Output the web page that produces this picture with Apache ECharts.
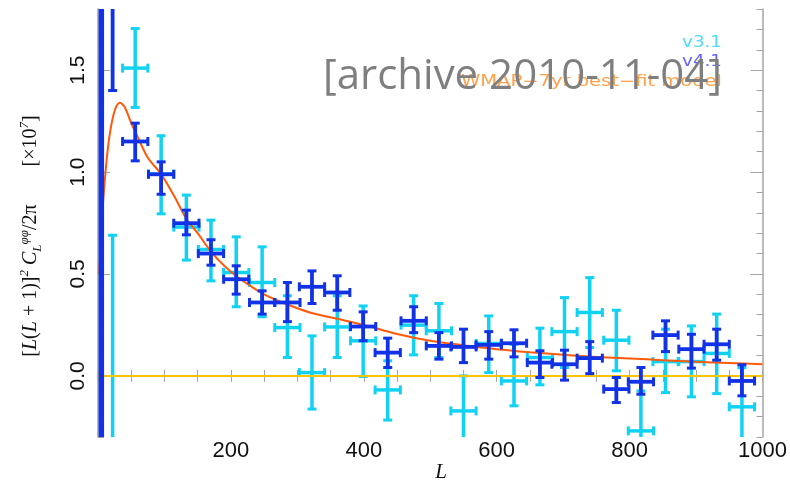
<!DOCTYPE html>
<html>
<head>
<meta charset="utf-8">
<script src="https://cdn.jsdelivr.net/npm/echarts@6/dist/echarts.min.js"></script>
<style>
  html, body { margin: 0; padding: 0; background: #ffffff; }
  #chart { width: 790px; height: 483px; }
</style>
</head>
<body>
<div id="chart"></div>
<script>
// Multipole bin centres (L) shared by both data releases
const binL = [5, 22, 56, 95, 133, 170, 208, 247, 285, 322, 360, 399, 436, 475, 513, 550, 588, 626, 665, 702, 740, 780, 817, 854, 893, 931, 969];
const binHalfWidth = 19;

// v3.1 band powers (units of 1e7) with lower / upper error limits
const v31Value = [null, -0.6, 1.51, 0.99, 0.73, 0.62, 0.507, 0.458, 0.237, 0.016, 0.24, 0.172, -0.069, 0.249, 0.221, -0.172, 0.159, -0.025, 0.09, 0.217, 0.311, 0.175, -0.27, 0.07, 0.07, 0.11, -0.152];
const v31Low   = [null, -1.9, 1.317, 0.795, 0.568, 0.466, 0.339, 0.29, 0.09, -0.163, 0.09, -0.003, -0.217, 0.103, 0.09, -0.35, 0.016, -0.147, -0.044, 0.041, 0.139, 0.025, -0.45, -0.082, -0.103, -0.087, -0.33];
const v31High  = [null, 0.69, 1.704, 1.178, 0.887, 0.764, 0.682, 0.633, 0.393, 0.196, 0.393, 0.343, 0.074, 0.393, 0.355, 0.0, 0.294, 0.155, 0.234, 0.384, 0.482, 0.322, -0.074, 0.229, 0.245, 0.303, 0.04];

// v4.1 band powers (units of 1e7) with lower / upper error limits
const v41Value = [2.5, 2.2, 1.15, 0.989, 0.749, 0.6, 0.474, 0.36, 0.36, 0.437, 0.409, 0.242, 0.114, 0.27, 0.147, 0.142, 0.152, 0.16, 0.065, 0.057, 0.087, -0.065, -0.029, 0.2, 0.131, 0.155, -0.025];
const v41Low   = [-2.0, 1.40, 1.055, 0.891, 0.692, 0.543, 0.401, 0.303, 0.266, 0.355, 0.322, 0.172, 0.041, 0.212, 0.082, 0.065, 0.082, 0.093, -0.008, -0.021, 0.011, -0.131, -0.09, 0.119, 0.038, 0.077, -0.098];
const v41High  = [6.0, 3.0, 1.24, 1.05, 0.813, 0.668, 0.54, 0.417, 0.458, 0.515, 0.491, 0.314, 0.185, 0.339, 0.212, 0.229, 0.217, 0.226, 0.123, 0.126, 0.168, -0.008, 0.041, 0.27, 0.204, 0.229, 0.054];

// WMAP-7yr best-fit lensing model
const modelL = [2, 5, 10, 15, 20, 26, 33, 40, 50, 60, 75, 95, 115, 133, 150, 170, 190, 208, 230, 250, 285, 320, 360, 400, 450, 500, 550, 600, 650, 700, 750, 800, 850, 900, 950, 1000];
const modelV = [0.5, 0.72, 0.95, 1.12, 1.23, 1.31, 1.34, 1.32, 1.24, 1.17, 1.07, 0.99, 0.88, 0.77, 0.7, 0.61, 0.54, 0.49, 0.44, 0.40, 0.35, 0.31, 0.28, 0.25, 0.205, 0.172, 0.15, 0.131, 0.116, 0.103, 0.093, 0.085, 0.077, 0.069, 0.063, 0.057];

// Axis tick labels
const xTickLabels = [200, 400, 600, 800, 1000];
const yTickLabels = [0, 0.5, 1.0, 1.5];

const CYAN = '#12d2f4';
const BLUE = '#1232e6';
const ORANGE = '#ff5a0a';
const GOLD = '#ffc400';
const FRAME = '#a4a4a4';

// Build [L, value, low, high] rows for bins in [from, to)
function rows(vals, lows, highs, from, to) {
  const out = [];
  binL.forEach((L, i) => {
    if (i < from || i >= to) return;
    if (vals[i] !== null) out.push([L, vals[i], lows[i], highs[i]]);
  });
  return out;
}

function errorBars(color, width) {
  return function (params, api) {
    const L = api.value(0), v = api.value(1), lo = api.value(2), hi = api.value(3);
    const pLo = api.coord([L, lo]);
    const pHi = api.coord([L, hi]);
    const pL = api.coord([L - binHalfWidth, v]);
    const pR = api.coord([L + binHalfWidth, v]);
    const cap = 4.5;
    const s = { stroke: color, lineWidth: width };
    const c = { stroke: color, lineWidth: 3 };
    const line = (x1, y1, x2, y2, st) => ({ type: 'line', shape: { x1, y1, x2, y2 }, style: st });
    return {
      type: 'group',
      children: [
        line(pLo[0], pLo[1], pHi[0], pHi[1], s),
        line(pLo[0] - cap, pLo[1], pLo[0] + cap, pLo[1], c),
        line(pHi[0] - cap, pHi[1], pHi[0] + cap, pHi[1], c),
        line(pL[0], pL[1], pR[0], pR[1], s),
        line(pL[0], pL[1] - cap, pL[0], pL[1] + cap, c),
        line(pR[0], pR[1] - cap, pR[0], pR[1] + cap, c)
      ]
    };
  };
}

const chart = echarts.init(document.getElementById('chart'), null, { renderer: 'canvas' });

const axisLine = { show: true, lineStyle: { color: FRAME, width: 1.5 } };

const xBase = {
  type: 'value', min: 0, max: 1000, interval: 50,
  axisLine: axisLine,
  splitLine: { show: false },
  axisTick: { inside: true, length: 6, lineStyle: { color: FRAME, width: 1 } }
};
const yMinor = {
  type: 'value', min: -0.3, max: 1.8, interval: 0.1,
  axisLine: axisLine,
  splitLine: { show: false },
  axisTick: { inside: true, length: 6, lineStyle: { color: FRAME, width: 1 } },
  axisLabel: { show: false }
};
const yMajor = {
  type: 'value', min: -0.3, max: 1.8,
  axisLine: { show: false },
  splitLine: { show: false },
  axisTick: { inside: true, length: 12, customValues: yTickLabels, lineStyle: { color: FRAME, width: 1 } },
  axisLabel: { show: false }
};

const n = binL.length;

chart.setOption({
  animation: false,
  backgroundColor: '#ffffff',
  grid: { left: 98, right: 27, top: 9, bottom: 46, containLabel: false },
  xAxis: [
    Object.assign({}, xBase, {
      position: 'bottom',
      axisLabel: {
        customValues: xTickLabels, margin: 3,
        formatter: v => String(v),
        color: '#111', fontSize: 22, fontFamily: 'Liberation Sans, Arial, sans-serif'
      }
    }),
    Object.assign({}, xBase, { position: 'top', axisLabel: { show: false } })
  ],
  yAxis: [
    Object.assign({}, yMinor, {
      position: 'left',
      axisLabel: {
        show: true, customValues: yTickLabels, rotate: 90, margin: 9,
        formatter: v => v.toFixed(1),
        color: '#111', fontSize: 21, fontFamily: 'Liberation Sans, Arial, sans-serif'
      }
    }),
    Object.assign({}, yMajor, { position: 'left' }),
    Object.assign({}, yMinor, { position: 'right' }),
    Object.assign({}, yMajor, { position: 'right' })
  ],
  series: [
    {
      name: 'v3.1', type: 'custom', z: 2, clip: true,
      renderItem: errorBars(CYAN, 3.5),
      encode: { x: 0, y: 1 },
      data: rows(v31Value, v31Low, v31High, 0, n)
    },
    {
      name: 'zero', type: 'line', z: 3, data: [], silent: true,
      markLine: {
        silent: true, symbol: 'none', label: { show: false },
        lineStyle: { color: GOLD, width: 2, type: 'solid' },
        data: [{ yAxis: 0 }]
      }
    },
    {
      name: 'WMAP-7yr best-fit model', type: 'line', z: 4, smooth: 0.3,
      showSymbol: false, symbol: 'none', clip: true,
      lineStyle: { color: ORANGE, width: 2 },
      data: modelL.map((L, i) => [L, modelV[i]])
    },
    {
      name: 'v4.1 lowest bin', type: 'custom', z: 5, clip: true,
      renderItem: errorBars(BLUE, 5.5),
      encode: { x: 0, y: 1 },
      data: rows(v41Value, v41Low, v41High, 0, 1)
    },
    {
      name: 'v4.1', type: 'custom', z: 5, clip: true,
      renderItem: errorBars(BLUE, 3.8),
      encode: { x: 0, y: 1 },
      data: rows(v41Value, v41Low, v41High, 1, n)
    }
  ],
  graphic: [
    {
      type: 'text', x: 722, y: 43, z: 10, scaleX: 1.22,
      style: { text: 'v3.1', fill: '#4fdcff', fontSize: 15, fontFamily: 'DejaVu Sans', align: 'right', verticalAlign: 'middle' }
    },
    {
      type: 'text', x: 722, y: 62, z: 10, scaleX: 1.22,
      style: { text: 'v4.1', fill: '#6464ff', fontSize: 15, fontFamily: 'DejaVu Sans', align: 'right', verticalAlign: 'middle' }
    },
    {
      type: 'text', x: 722, y: 82, z: 10, scaleX: 1.3,
      style: { text: 'WMAP\u22127yr best\u2212fit model', fill: '#ffa04a', fontSize: 15, fontFamily: 'DejaVu Sans', align: 'right', verticalAlign: 'middle' }
    },
    {
      type: 'text', x: 722, y: 77, z: 20,
      style: { text: '[archive 2010-11-04]', fill: '#7f7f7f', fontSize: 42, fontFamily: 'Open Sans', align: 'right', verticalAlign: 'middle' }
    },
    {
      type: 'text', x: 441, y: 472, z: 10,
      style: { text: 'L', fill: '#111', fontSize: 21, fontStyle: 'italic', fontFamily: 'Liberation Serif', align: 'center', verticalAlign: 'middle' }
    },
    {
      type: 'text', x: 31, y: 236, z: 10, rotation: Math.PI / 2,
      style: {
        text: '{m|[}{i|L}{m|(}{i|L}{m| + 1)]}{sup|2}{i| C}{sub|L}{sup|φφ}{m|/2π}{gap|}{m|[×10}{sup|7}{m|]}',
        align: 'center', verticalAlign: 'middle', fill: '#111',
        rich: {
          m: { fontSize: 20, fontFamily: 'Liberation Serif', lineHeight: 26, fill: '#111' },
          i: { fontSize: 20, fontFamily: 'Liberation Serif', fontStyle: 'italic', lineHeight: 26, fill: '#111' },
          sup: { fontSize: 13, fontFamily: 'Liberation Serif', fontStyle: 'italic', lineHeight: 13, verticalAlign: 'top', fill: '#111' },
          sub: { fontSize: 13, fontFamily: 'Liberation Serif', fontStyle: 'italic', lineHeight: 13, verticalAlign: 'bottom', fill: '#111' },
          gap: { width: 38, lineHeight: 26 }
        }
      }
    }
  ]
});
</script>
</body>
</html>
